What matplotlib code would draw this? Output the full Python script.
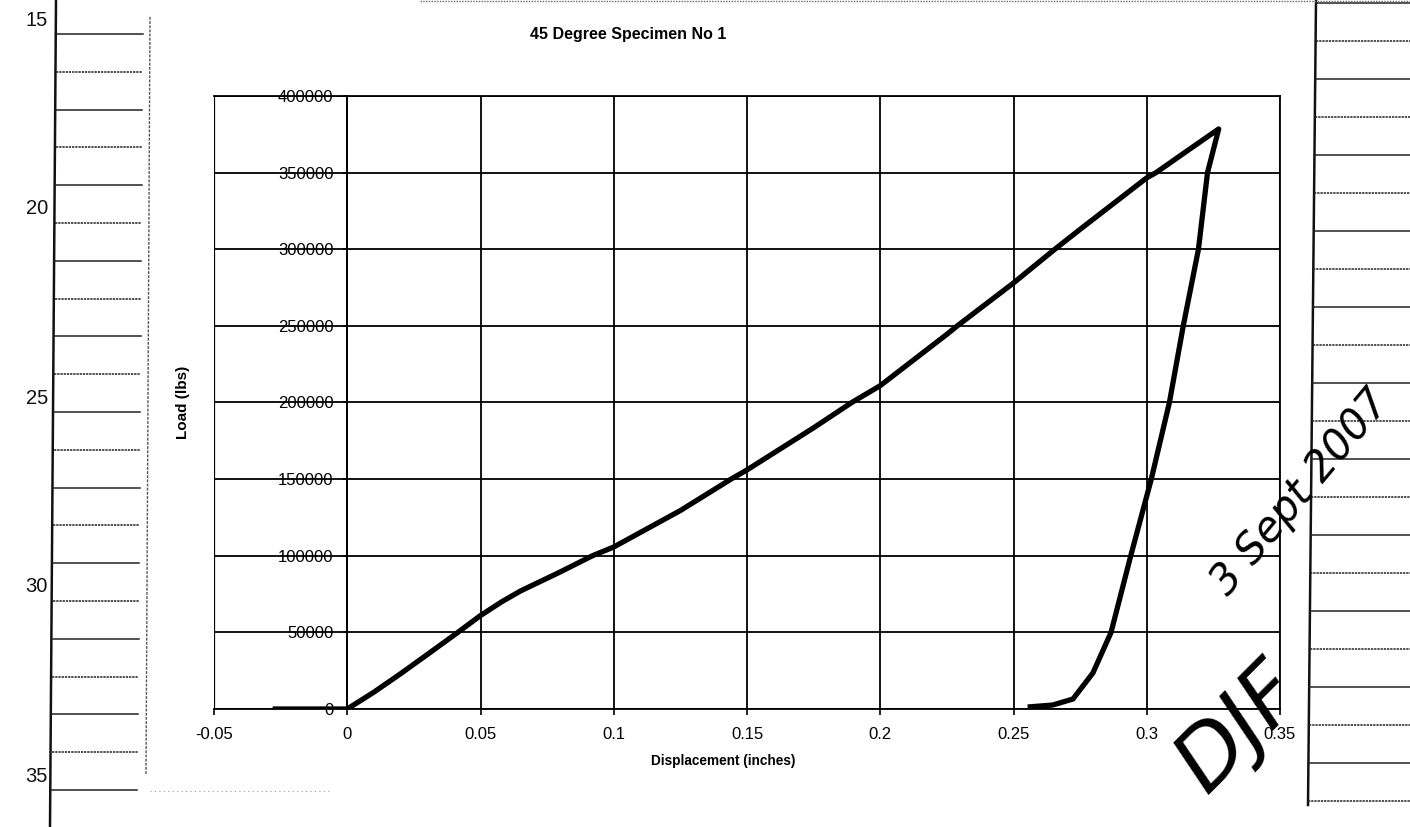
import matplotlib
matplotlib.use("Agg")
import matplotlib.pyplot as plt
from matplotlib.lines import Line2D

# Load-displacement record: loading branch then unloading branch
loading_disp = [-0.028, 0.0, 0.01, 0.02, 0.03, 0.0415, 0.05, 0.058, 0.065, 0.08, 0.092,
                0.1, 0.125, 0.144, 0.15, 0.175, 0.1893, 0.2, 0.225, 0.2289, 0.25,
                0.2655, 0.275, 0.3, 0.3035, 0.315, 0.327]
loading_load = [0, 0, 11000, 23000, 35500, 50000, 61000, 70000, 77000, 89500, 100000,
                105700, 129500, 150000, 156000, 183500, 200000, 211000, 244500, 250000,
                278000, 300000, 313000, 346600, 350000, 364000, 378500]
unloading_disp = [0.3228, 0.3194, 0.3137, 0.3085, 0.3017, 0.294, 0.2866, 0.2798,
                  0.2723, 0.2647, 0.2553]
unloading_load = [350000, 300000, 250000, 200000, 150000, 100000, 50000, 23500,
                  6500, 2600, 1300]

x_ticks = [-0.05, 0, 0.05, 0.1, 0.15, 0.2, 0.25, 0.3, 0.35]
x_tick_labels = ["-0.05", "0", "0.05", "0.1", "0.15", "0.2", "0.25", "0.3", "0.35"]
y_ticks = [0, 50000, 100000, 150000, 200000, 250000, 300000, 350000, 400000]
y_tick_labels = [str(v) for v in y_ticks]
margin_numbers = ["15", "20", "25", "30", "35"]

title = "45 Degree Specimen No 1"
x_label = "Displacement (inches)"
y_label = "Load (lbs)"
date_note = "3 Sept 2007"
initials = "DJF"

W, H = 1410, 827
plt.rcParams["font.family"] = ["Liberation Sans", "DejaVu Sans"]

fig = plt.figure(figsize=(W / 100, H / 100), dpi=100)
fig.patch.set_facecolor("white")


def fx(px):
    return px / W


def fy(py):
    return 1 - py / H


def fline(x0, y0, x1, y1, **kw):
    fig.add_artist(Line2D([fx(x0), fx(x1)], [fy(y0), fy(y1)],
                          transform=fig.transFigure, **kw))


# ---- ruled notebook margins ----
fline(56, 0, 50, H, color="#111111", lw=1.8)
fline(150, 17, 146, 775, color="#555555", lw=1.0, ls=(0, (2, 1)))
for k in range(21):
    y = 34 + 37.8 * k
    style = "-" if k % 2 == 0 else (0, (1.5, 0.6))
    fline(57 - 0.007 * y, y, 143 - 0.007 * y, y, color="#222222", lw=1.1, ls=style)
for i, lab in enumerate(margin_numbers):
    fig.text(fx(48), fy(20 + 189 * i), lab, ha="right", va="center",
             fontsize=14.5, color="#111111")

fline(1316, 0, 1308, 805, color="#111111", lw=1.8)
for k in range(22):
    y = 3 + 38 * k
    style = "-" if k % 2 == 0 else (0, (1.5, 0.6))
    fline(1316 - 0.01 * y, y, W, y, color="#222222", lw=1.1, ls=style)
fline(420, 1, W, 1, color="#666666", lw=1.0, ls=(0, (1, 1)))
fline(150, 791, 330, 791, color="#999999", lw=0.8, ls=(0, (1, 3)))

# ---- chart ----
ax = fig.add_axes([fx(214), fy(709), fx(1280) - fx(214), fy(96) - fy(709)])
ax.set_facecolor("none")
ax.set_xlim(-0.05, 0.35)
ax.set_ylim(0, 400000)

ax.set_xticks(x_ticks)
ax.set_xticklabels(x_tick_labels)
ax.set_yticks(y_ticks)
ax.set_yticklabels(y_tick_labels)
ax.grid(True, color="black", lw=1.3)
ax.set_axisbelow(True)

for side in ["top", "right", "bottom", "left"]:
    ax.spines[side].set_color("black")
    ax.spines[side].set_linewidth(1.3)
ax.spines["left"].set_position(("data", 0))
ax.axvline(-0.05, color="black", lw=1.6)

ax.tick_params(axis="x", direction="out", length=4, width=1.2, pad=9,
               labelsize=12, colors="black")
ax.tick_params(axis="y", direction="out", length=3, width=1.2, pad=7,
               labelsize=12, colors="black")

ax.plot(loading_disp + unloading_disp, loading_load + unloading_load,
        color="black", lw=3.8, solid_joinstyle="round", solid_capstyle="butt")

fig.text(fx(628), fy(34), title, ha="center", va="center",
         fontsize=11.5, fontweight="bold")
fig.text(fx(723), fy(761), x_label, ha="center", va="center",
         fontsize=9.8, fontweight="bold")
fig.text(fx(183), fy(402), y_label, ha="center", va="center",
         fontsize=11, fontweight="bold", rotation=90)

# ---- handwritten annotations ----
fig.text(fx(1300), fy(492), date_note, ha="center", va="center", rotation=50,
         fontsize=30, family=["DejaVu Sans"], fontstyle="oblique",
         fontweight="light", color="black")
fig.text(fx(1240), fy(728), initials, ha="center", va="center", rotation=45,
         fontsize=62, family=["DejaVu Sans"], fontstyle="oblique",
         fontweight="light", color="black")

fig.savefig("out.png", dpi=100, facecolor="white")
